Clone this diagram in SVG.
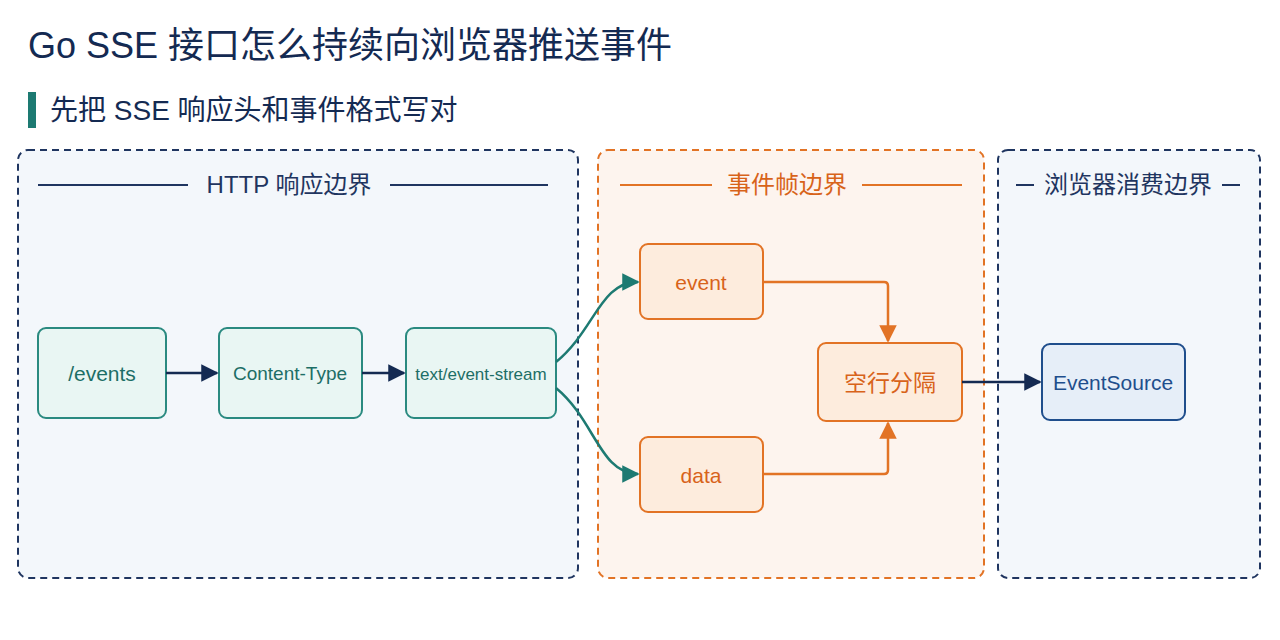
<svg xmlns="http://www.w3.org/2000/svg" width="1280" height="640" viewBox="0 0 1280 640">
<defs>
<style>
text{font-family:"Liberation Sans","Noto Sans CJK SC",sans-serif}
.hd{font-size:24px;text-anchor:middle}
.tn rect{fill:#e9f6f3;stroke:#2a8a80;stroke-width:2}
.on rect{fill:#fdecdd;stroke:#e27325;stroke-width:2}
.tn text{fill:#1d6e66;text-anchor:middle}
.on text{fill:#d8631a;text-anchor:middle}
</style>
<marker id="an" viewBox="0 0 10 10" refX="9" refY="5" markerWidth="7" markerHeight="7" orient="auto"><path d="M0,0L10,5L0,10z" fill="#142a52"/></marker>
<marker id="at" viewBox="0 0 10 10" refX="9" refY="5" markerWidth="7" markerHeight="7" orient="auto"><path d="M0,0L10,5L0,10z" fill="#1d7a72"/></marker>
<marker id="ao" viewBox="0 0 10 10" refX="9" refY="5" markerWidth="7" markerHeight="7" orient="auto"><path d="M0,0L10,5L0,10z" fill="#e27325"/></marker>
</defs>
<rect width="1280" height="640" fill="#ffffff"/>
<text x="28" y="58" font-size="36" fill="#142a52">Go SSE 接口怎么持续向浏览器推送事件</text>
<rect x="28" y="92" width="8" height="36" fill="#1d7a72"/>
<text x="50" y="120" font-size="28" fill="#142a52">先把 SSE 响应头和事件格式写对</text>
<g id="panel-http">
<rect x="18" y="150" width="560" height="428" rx="10" fill="#f3f7fb" stroke="#1f3560" stroke-width="2" stroke-dasharray="7 5"/>
<line x1="38" y1="185" x2="188" y2="185" stroke="#1f3560" stroke-width="2"/>
<line x1="390" y1="185" x2="548" y2="185" stroke="#1f3560" stroke-width="2"/>
<text x="289" y="193" class="hd" fill="#1f3560">HTTP 响应边界</text>
</g>
<g id="panel-frame">
<rect x="598" y="150" width="386" height="428" rx="10" fill="#fdf4ee" stroke="#e27325" stroke-width="2" stroke-dasharray="7 5"/>
<line x1="620" y1="185" x2="712" y2="185" stroke="#e27325" stroke-width="2"/>
<line x1="862" y1="185" x2="962" y2="185" stroke="#e27325" stroke-width="2"/>
<text x="787" y="193" class="hd" fill="#d8631a">事件帧边界</text>
</g>
<g id="panel-browser">
<rect x="998" y="150" width="262" height="428" rx="10" fill="#f3f7fb" stroke="#1f3560" stroke-width="2" stroke-dasharray="7 5"/>
<line x1="1016" y1="185" x2="1034" y2="185" stroke="#1f3560" stroke-width="2"/>
<line x1="1222" y1="185" x2="1240" y2="185" stroke="#1f3560" stroke-width="2"/>
<text x="1128" y="193" class="hd" fill="#1f3560">浏览器消费边界</text>
</g>
<g id="n-events" class="tn"><rect x="38" y="328" width="128" height="90" rx="8"/><text x="102" y="381" font-size="21">/events</text></g>
<g id="n-ct" class="tn"><rect x="219" y="328" width="143" height="90" rx="8"/><text x="290" y="380" font-size="19">Content-Type</text></g>
<g id="n-ts" class="tn"><rect x="406" y="328" width="150" height="90" rx="8"/><text x="481" y="380" font-size="17">text/event-stream</text></g>
<g id="n-event" class="on"><rect x="640" y="244" width="123" height="75" rx="8"/><text x="701" y="290" font-size="21">event</text></g>
<g id="n-data" class="on"><rect x="640" y="437" width="123" height="75" rx="8"/><text x="701" y="483" font-size="21">data</text></g>
<g id="n-blank" class="on"><rect x="818" y="343" width="144" height="78" rx="8"/><text x="890" y="391" font-size="23">空行分隔</text></g>
<g id="n-es"><rect x="1042" y="344" width="143" height="76" rx="8" fill="#e6eef8" stroke="#1f4e8c" stroke-width="2"/><text x="1113" y="390" font-size="21" text-anchor="middle" fill="#1f4e8c">EventSource</text></g>
<g id="connectors" fill="none" stroke-width="2.5">
<line x1="166" y1="373" x2="217" y2="373" stroke="#142a52" marker-end="url(#an)"/>
<line x1="362" y1="373" x2="404" y2="373" stroke="#142a52" marker-end="url(#an)"/>
<path d="M556,362 C595,330 600,282 638,282" stroke="#1d7a72" marker-end="url(#at)"/>
<path d="M556,388 C595,420 600,474 638,474" stroke="#1d7a72" marker-end="url(#at)"/>
<path d="M763,282 H884 Q888,282 888,286 V341" stroke="#e27325" marker-end="url(#ao)"/>
<path d="M763,474 H884 Q888,474 888,470 V423" stroke="#e27325" marker-end="url(#ao)"/>
<line x1="962" y1="382" x2="1040" y2="382" stroke="#142a52" marker-end="url(#an)"/>
</g>
</svg>
